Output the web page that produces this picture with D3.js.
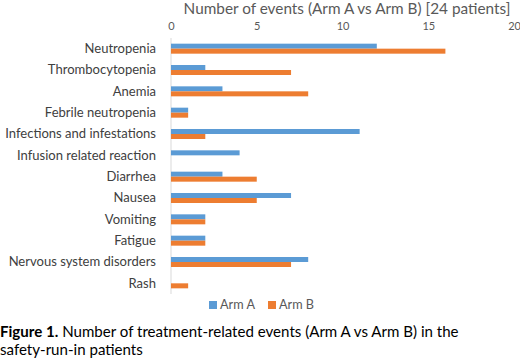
<!DOCTYPE html>
<html>
<head>
<meta charset="utf-8">
<script src="https://cdn.jsdelivr.net/npm/d3@7"></script>
<style>
  body { margin: 0; background: #fff; }
  svg { display: block; }
</style>
</head>
<body>
<div id="chart"></div>
<script>
// data
var categories = ["Neutropenia", "Thrombocytopenia", "Anemia", "Febrile neutropenia",
  "Infections and infestations", "Infusion related reaction", "Diarrhea", "Nausea",
  "Vomiting", "Fatigue", "Nervous system disorders", "Rash"];
var armA = [12, 2, 3, 1, 11, 4, 3, 7, 2, 2, 8, 0];
var armB = [16, 7, 8, 1, 2, 0, 5, 5, 2, 2, 7, 1];
var seriesNames = ["Arm A", "Arm B"];
var seriesColors = ["#5B9BD5", "#ED7D31"];
var xTicks = [0, 5, 10, 15, 20];
var title = "Number of events (Arm A vs Arm B) [24 patients]";

var font = "Lato, 'Open Sans', sans-serif";
var width = 520, height = 358;

var svg = d3.select("#chart").append("svg")
  .attr("width", width)
  .attr("height", height)
  .style("font-family", font);

var x = d3.scaleLinear().domain([0, 20]).range([171, 514]);
var y = d3.scaleBand().domain(categories).range([38, 294]);
var inner = d3.scaleBand().domain(seriesNames).range([0, 10]);

// scale a text's font so it spans the wanted width
function fit(sel, target) {
  var node = sel.node();
  var w = node.getComputedTextLength();
  var fs = parseFloat(sel.style("font-size"));
  var nfs = fs * target / w;
  sel.style("font-size", nfs + "px");
  return nfs;
}

// title
var t = svg.append("text")
  .attr("x", 347).attr("y", 14)
  .attr("text-anchor", "middle")
  .attr("fill", "#595959")
  .style("font-size", "14px")
  .text(title);
fit(t, 327);

// top axis tick labels
var xAxis = d3.axisTop(x).tickValues(xTicks).tickSize(0).tickPadding(0);
var gx = svg.append("g").attr("transform", "translate(0,30)").call(xAxis);
gx.select(".domain").remove();
gx.selectAll("text")
  .attr("fill", "#595959")
  .style("font-size", "11px")
  .style("font-family", font);

// vertical baseline
svg.append("line")
  .attr("x1", x(0)).attr("x2", x(0))
  .attr("y1", y.range()[0]).attr("y2", y.range()[1])
  .attr("stroke", "#d9d9d9").attr("stroke-width", 1);

// category labels
var yAxis = d3.axisLeft(y).tickSize(0).tickPadding(15);
var gy = svg.append("g").attr("transform", "translate(" + x(0) + ",0)").call(yAxis);
gy.select(".domain").remove();
gy.selectAll("text")
  .attr("fill", "#404040")
  .style("font-size", "13px")
  .style("font-family", font);
var longest = gy.selectAll("text").filter(function(d) { return d === "Infections and infestations"; });
var catSize = fit(longest, 151);
gy.selectAll("text").style("font-size", catSize + "px");

// bars
var rows = categories.map(function(c, i) {
  return { cat: c, values: [armA[i], armB[i]] };
});

var groups = svg.selectAll(".row").data(rows).enter().append("g")
  .attr("class", "row")
  .attr("transform", function(d) {
    return "translate(0," + (y(d.cat) + y.bandwidth() / 2 - 5) + ")";
  });

groups.selectAll("rect")
  .data(function(d) {
    return d.values.map(function(v, j) { return { name: seriesNames[j], value: v, j: j }; });
  })
  .enter().append("rect")
  .attr("x", x(0))
  .attr("y", function(d) { return inner(d.name); })
  .attr("width", function(d) { return x(d.value) - x(0); })
  .attr("height", inner.bandwidth())
  .attr("fill", function(d) { return seriesColors[d.j]; });

// legend
var legend = svg.append("g").attr("transform", "translate(209,301)");
var legendX = [0, 59];
seriesNames.forEach(function(n, i) {
  var g = legend.append("g").attr("transform", "translate(" + legendX[i] + ",0)");
  g.append("rect").attr("x", 0).attr("y", 0).attr("width", 8).attr("height", 8)
    .attr("fill", seriesColors[i]);
  var lt = g.append("text").attr("x", 11).attr("y", 8)
    .attr("fill", "#595959")
    .style("font-size", "12px")
    .text(n);
  fit(lt, 35);
});

// caption
var cap = svg.append("text")
  .attr("x", 0).attr("y", 337)
  .attr("fill", "#000")
  .style("font-size", "15px");
cap.append("tspan").style("font-weight", "bold").text("Figure 1.");
cap.append("tspan").text(" Number of treatment-related events (Arm A vs Arm B) in the");
var capSize = fit(cap, 459);
svg.append("text")
  .attr("x", 0).attr("y", 355)
  .attr("fill", "#000")
  .style("font-size", capSize + "px")
  .text("safety-run-in patients");
</script>
</body>
</html>
